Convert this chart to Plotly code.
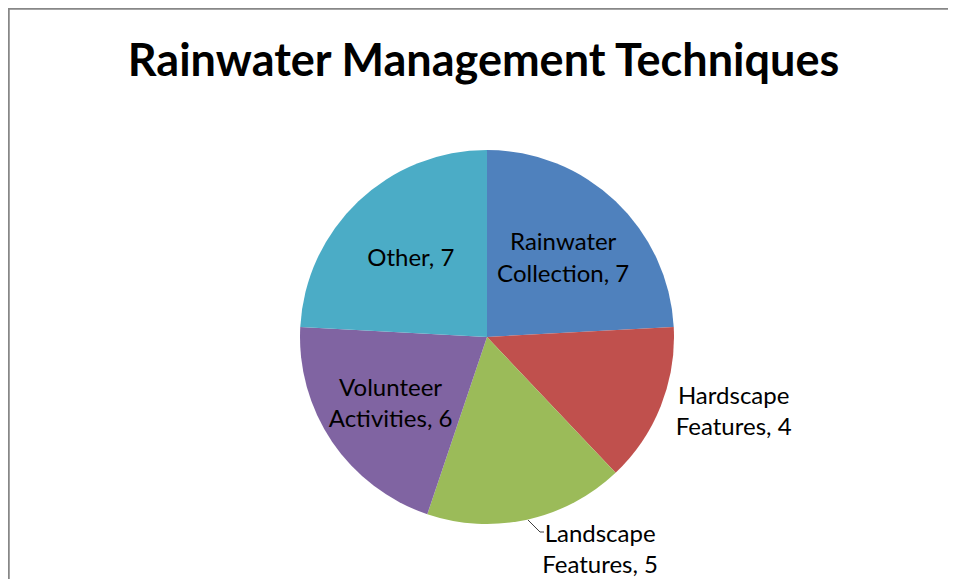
import plotly.graph_objects as go

categories = ["Rainwater Collection", "Hardscape Features", "Landscape Features",
              "Volunteer Activities", "Other"]
values = [7, 4, 5, 6, 7]
colors = ["#4F81BD", "#C0504D", "#9BBB59", "#8064A2", "#4BACC6"]
label_pos = ["inside", "outside", "outside", "inside", "inside"]

# two-line labels like Excel: "Rainwater<br>Collection, 7"
labels_text = []
for name, v in zip(categories, values):
    words = name.split(" ")
    if len(words) > 1:
        labels_text.append(f"{' '.join(words[:-1])}<br>{words[-1]}, {v}")
    else:
        labels_text.append(f"{name}, {v}")

W, H = 956, 579
# page body adds 8px offset, so positions are relative to the plot's own corner
cx, cy, r = 479, 329, 187


def px(x):
    return x / W


def py(y):
    return 1 - y / H


fig = go.Figure(go.Pie(
    labels=categories,
    values=values,
    text=labels_text,
    textinfo="text",
    textposition=label_pos,
    insidetextorientation="horizontal",
    sort=False,
    direction="clockwise",
    rotation=0,
    marker=dict(colors=colors, line=dict(width=0)),
    textfont=dict(family="Lato", size=24, color="#000000"),
    hoverinfo="label+value",
    showlegend=False,
    automargin=False,
    domain=dict(x=[px(cx - r), px(cx + r)], y=[py(cy + r), py(cy - r)]),
))

fig.update_layout(
    width=W, height=H,
    margin=dict(l=0, r=0, t=0, b=0),
    paper_bgcolor="white",
    title=dict(text="<b>Rainwater Management Techniques</b>", x=px(475.5), xanchor="center",
               y=py(52), yanchor="middle",
               font=dict(family="Lato", size=45, color="#000000")),
    shapes=[
        # chart-area border (only top/left fall inside the window)
        dict(type="rect", xref="paper", yref="paper", x0=px(0.5), x1=1.05, y0=-0.05, y1=py(0.5),
             line=dict(color="#878787", width=2.5), fillcolor="rgba(0,0,0,0)", layer="below"),
        # leader line for the Landscape Features label
        dict(type="path", xref="paper", yref="paper",
             path=f"M {px(520)} {py(512)} L {px(532)} {py(524)} L {px(536)} {py(524)}",
             line=dict(color="#404040", width=1)),
    ],
)

fig.write_html("out.html")
